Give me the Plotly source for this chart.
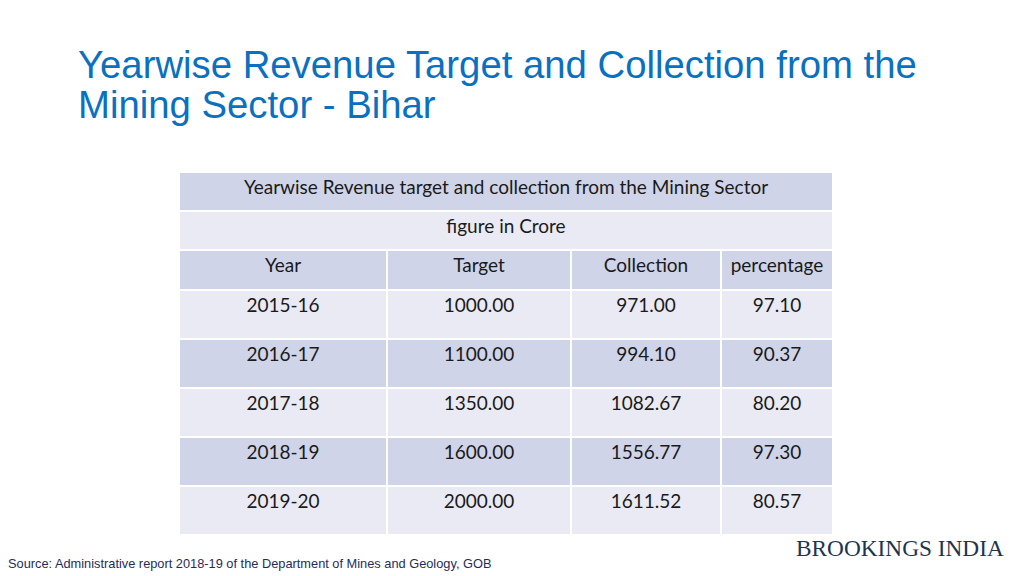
import plotly.graph_objects as go

# Table data
years = ["2015-16", "2016-17", "2017-18", "2018-19", "2019-20"]
target = [1000.00, 1100.00, 1350.00, 1600.00, 2000.00]
collection = [971.00, 994.10, 1082.67, 1556.77, 1611.52]
percentage = [97.10, 90.37, 80.20, 97.30, 80.57]
col_headers = ["Year", "Target", "Collection", "percentage"]

table_title = "Yearwise Revenue target and collection from the Mining Sector"
table_unit = "figure in Crore"
title_lines = ["Yearwise Revenue Target and Collection from the", "Mining Sector - Bihar"]

dark = "#cfd4e9"
light = "#e9eaf4"
font_tbl = dict(family="Lato, Open Sans, sans-serif", size=19, color="#1a1a1a")

W, H = 1024, 576
x0, x1 = 179 / W, 833 / W

row_fill = [light if i % 2 == 0 else dark for i in range(len(years))]

fig = go.Figure()

# merged top rows (single column table)
fig.add_trace(
    go.Table(
        domain=dict(x=[x0, x1], y=[1 - 252 / H, 1 - 172 / H]),
        header=dict(
            values=[table_title],
            fill_color=dark,
            line=dict(color="white", width=2),
            font=font_tbl,
            align="center",
            height=39,
        ),
        cells=dict(
            values=[[table_unit]],
            fill_color=light,
            line=dict(color="white", width=2),
            font=font_tbl,
            align="center",
            height=39,
        ),
    )
)

# main table
fig.add_trace(
    go.Table(
        domain=dict(x=[x0, x1], y=[1 - 540 / H, 1 - 250 / H]),
        columnwidth=[208, 184, 150, 112],
        header=dict(
            values=col_headers,
            fill_color=dark,
            line=dict(color="white", width=2),
            font=font_tbl,
            align="center",
            height=40,
        ),
        cells=dict(
            values=[
                years,
                [f"{v:.2f}" for v in target],
                [f"{v:.2f}" for v in collection],
                [f"{v:.2f}" for v in percentage],
            ],
            fill_color=[row_fill] * 4,
            line=dict(color="white", width=2),
            font=font_tbl,
            align="center",
            height=49,
        ),
    )
)

# slide title, two lines placed separately for tighter spacing
for i, line in enumerate(title_lines):
    fig.add_annotation(
        text=line,
        xref="paper", yref="paper",
        x=76 / W, y=1 - (64 + 40 * i) / H,
        xanchor="left", yanchor="middle",
        align="left", showarrow=False,
        font=dict(family="Liberation Sans, Arial, sans-serif", size=38.3, color="#0a70c0"),
    )

fig.add_annotation(
    text="Source: Administrative report 2018-19 of the Department of Mines and Geology, GOB",
    xref="paper", yref="paper",
    x=6 / W, y=1 - 563 / H,
    xanchor="left", yanchor="middle",
    showarrow=False,
    font=dict(family="Liberation Sans, Arial, sans-serif", size=12.8, color="#1f2d5c"),
)

fig.add_annotation(
    text="BROOKINGS INDIA",
    xref="paper", yref="paper",
    x=1006 / W, y=1 - 548 / H,
    xanchor="right", yanchor="middle",
    showarrow=False,
    font=dict(family="Liberation Serif, DejaVu Serif, serif", size=23.3, color="#1c3550"),
)

fig.update_layout(
    width=W,
    height=H,
    margin=dict(l=0, r=0, t=0, b=0),
    paper_bgcolor="white",
    plot_bgcolor="white",
)

# drop the default body margin so the figure sits at the page origin
fig.write_html(
    "out.html",
    config={"displayModeBar": False},
    post_script="document.body.style.margin='0';",
)
